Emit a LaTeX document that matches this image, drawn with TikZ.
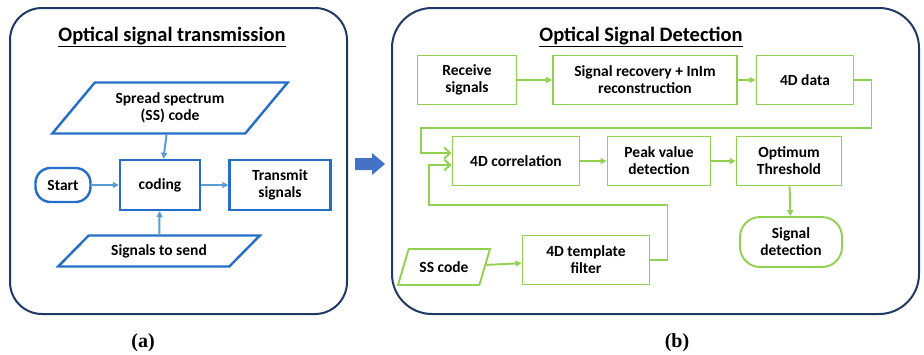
\documentclass[tikz,border=0pt]{standalone}
\usepackage{fontspec}
\setmainfont{Carlito}
\newfontfamily\capfont{Liberation Serif}
\usetikzlibrary{arrows.meta,positioning,shapes.geometric}
\definecolor{tblue}{RGB}{36,110,200}
\definecolor{ablue}{RGB}{91,155,213}
\definecolor{navy}{RGB}{31,56,100}
\definecolor{dgreen}{RGB}{146,208,80}
\definecolor{bigblue}{RGB}{68,114,196}

\begin{document}
\begin{tikzpicture}[x=1pt, y=-1pt,
	every node/.style={font=\fontsize{15.5}{17}\selectfont\bfseries, align=center, inner sep=2pt},
	frame/.style={draw=navy, line width=2pt, rounded corners=32pt},
	ttl/.style={font=\fontsize{20.5}{22}\selectfont\bfseries},
	captext/.style={font=\capfont\fontsize{20}{22}\selectfont\bfseries},
	tbox/.style={draw=tblue, line width=2.4pt, minimum height=50pt},
	tpara/.style={tbox, trapezium, trapezium stretches=true},
	tline/.style={draw=ablue, line width=2pt, -{Triangle[length=6pt,width=6pt]}},
	gbox/.style={draw=dgreen, line width=1.9pt, minimum height=49pt},
	gline/.style={draw=dgreen, line width=1.9pt, -{Triangle[length=6pt,width=6pt]}},
	gopen/.style={draw=dgreen, line width=1.9pt, -{Straight Barb[length=6pt,width=11pt]}},
	]
	\useasboundingbox (0,0) rectangle (924,354);
	
	% (a) transmission side
	\draw[frame] (10,8) rectangle (347,314);
	\node[ttl] (ttlA) at (172,37) {\underline{Optical signal transmission}};
	\node[tpara, trapezium left angle=47, trapezium right angle=133,
		minimum width=236pt, minimum height=51pt] (ss) at (170,108) {Spread spectrum\\(SS) code};
	\node[tbox, minimum width=80pt] (coding) at (160,185) {coding};
	\node[tbox, minimum width=101pt] (tx) at (280,185) {Transmit\\signals};
	\node[tbox, minimum width=55pt, minimum height=34pt, rounded corners=15pt] (start) at (63,185) {Start};
	\node[tpara, trapezium left angle=39, trapezium right angle=141,
		minimum width=202pt, minimum height=31pt] (send) at (159,251) {Signals to send};
	\node[captext] (capA) at (143,343) {(a)};
	
	\draw[tline] (ss) -- (coding);
	\draw[tline] (send) -- (coding);
	\draw[tline] (start) -- (coding);
	\draw[tline] (coding) -- (tx);
	
	% arrow between the panels
	\fill[bigblue] (355,158) -- (372,158) -- (372,153) -- (385,164) -- (372,175) -- (372,170) -- (355,170) -- cycle;
	
	% (b) detection side
	\draw[frame, rounded corners=40pt] (392,8) rectangle (919,314);
	\node[ttl] (ttlB) at (641,37) {\underline{Optical Signal Detection}};
	\node[gbox, minimum width=99pt] (recv) at (467,80) {Receive\\signals};
	\node[gbox, minimum width=184pt] (recov) at (645,80) {Signal recovery + InIm\\reconstruction};
	\node[gbox, minimum width=97pt] (data) at (805,80) {4D data};
	\node[gbox, minimum width=127pt] (corr) at (516,161) {4D correlation};
	\node[gbox, minimum width=103pt] (peak) at (659,161) {Peak value\\detection};
	\node[gbox, minimum width=105pt] (thr) at (789,161) {Optimum\\Threshold};
	\node[gbox, minimum width=102pt, minimum height=50pt, rounded corners=20pt] (det) at (791,242) {Signal\\detection};
	\node[gbox, minimum width=127pt] (tmpl) at (586,260) {4D template\\filter};
	\node[gbox, trapezium, trapezium stretches=true, trapezium left angle=62, trapezium right angle=118,
		minimum width=92pt, minimum height=36pt] (sscode) at (444,267) {SS code};
	\node[captext] (capB) at (677,343) {(b)};
	
	\draw[gline] (recv) -- (recov);
	\draw[gline] (recov) -- (data);
	\draw[gopen] (data.east) -- ++(17,0) -- ++(0,48) -| ([xshift=-31pt,yshift=8pt]corr.west) -- ([yshift=8pt]corr.west);
	\draw[gopen] (tmpl.east) -- ++(17,0) -- ++(0,-55) -| ([xshift=-23pt,yshift=-4pt]corr.west) -- ([yshift=-4pt]corr.west);
	\draw[gline] (corr) -- (peak);
	\draw[gline] (peak) -- (thr);
	\draw[gline] (thr) -- (det);
	\draw[gline] (sscode) -- (tmpl);
	
\end{tikzpicture}
\end{document}
